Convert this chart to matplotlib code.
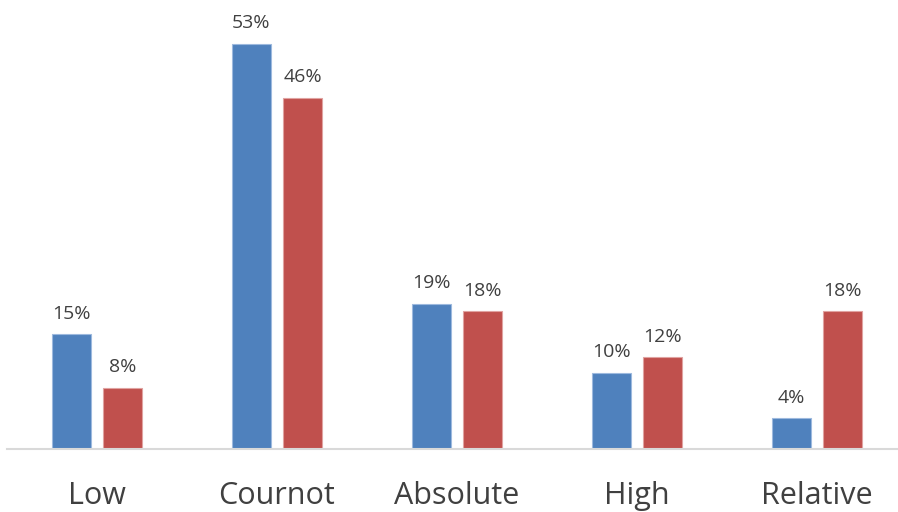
import matplotlib
matplotlib.use("Agg")
import matplotlib.pyplot as plt
import numpy as np

categories = ["Low", "Cournot", "Absolute", "High", "Relative"]
series_a = [15, 53, 19, 10, 4]
series_b = [8, 46, 18, 12, 18]

blue = "#4F81BD"
red = "#C0504D"
text_color = "#404040"

plt.rcParams["font.family"] = ["Open Sans", "DejaVu Sans"]

W, H = 898, 512
fig = plt.figure(figsize=(W / 100, H / 100), dpi=100)

# axes placed in pixel terms: baseline at y=449, groups 180 px wide starting at x=7
px_per_unit = 7.64
ymax = 55
left_px, right_px = 7, 907
base_px = 449
ax = fig.add_axes([left_px / W, (H - base_px) / H,
                   (right_px - left_px) / W, ymax * px_per_unit / H])

x = np.arange(len(categories))
width = 0.22
offset = 0.142

bars_a = ax.bar(x - offset, series_a, width, color=blue, edgecolor="#9DB9DE", linewidth=0.8)
bars_b = ax.bar(x + offset, series_b, width, color=red, edgecolor="#E0A3A1", linewidth=0.8)

for bars, vals in ((bars_a, series_a), (bars_b, series_b)):
    for b, v in zip(bars, vals):
        ax.annotate(f"{v}%", (b.get_x() + b.get_width() / 2, v),
                    xytext=(0, 8.5), textcoords="offset points",
                    ha="center", va="bottom", fontsize=14, color=text_color)

ax.set_xlim(-0.5, len(categories) - 0.5)
ax.set_ylim(0, ymax)
ax.set_xticks(x)
ax.set_xticklabels(categories, fontsize=22, color=text_color)
ax.tick_params(axis="x", length=0, pad=23)
ax.set_yticks([])
for s in ("top", "right", "left"):
    ax.spines[s].set_visible(False)
ax.spines["bottom"].set_color("#D9D9D9")
ax.spines["bottom"].set_linewidth(1.5)
ax.set_facecolor("none")

fig.savefig("out.png", dpi=100)
